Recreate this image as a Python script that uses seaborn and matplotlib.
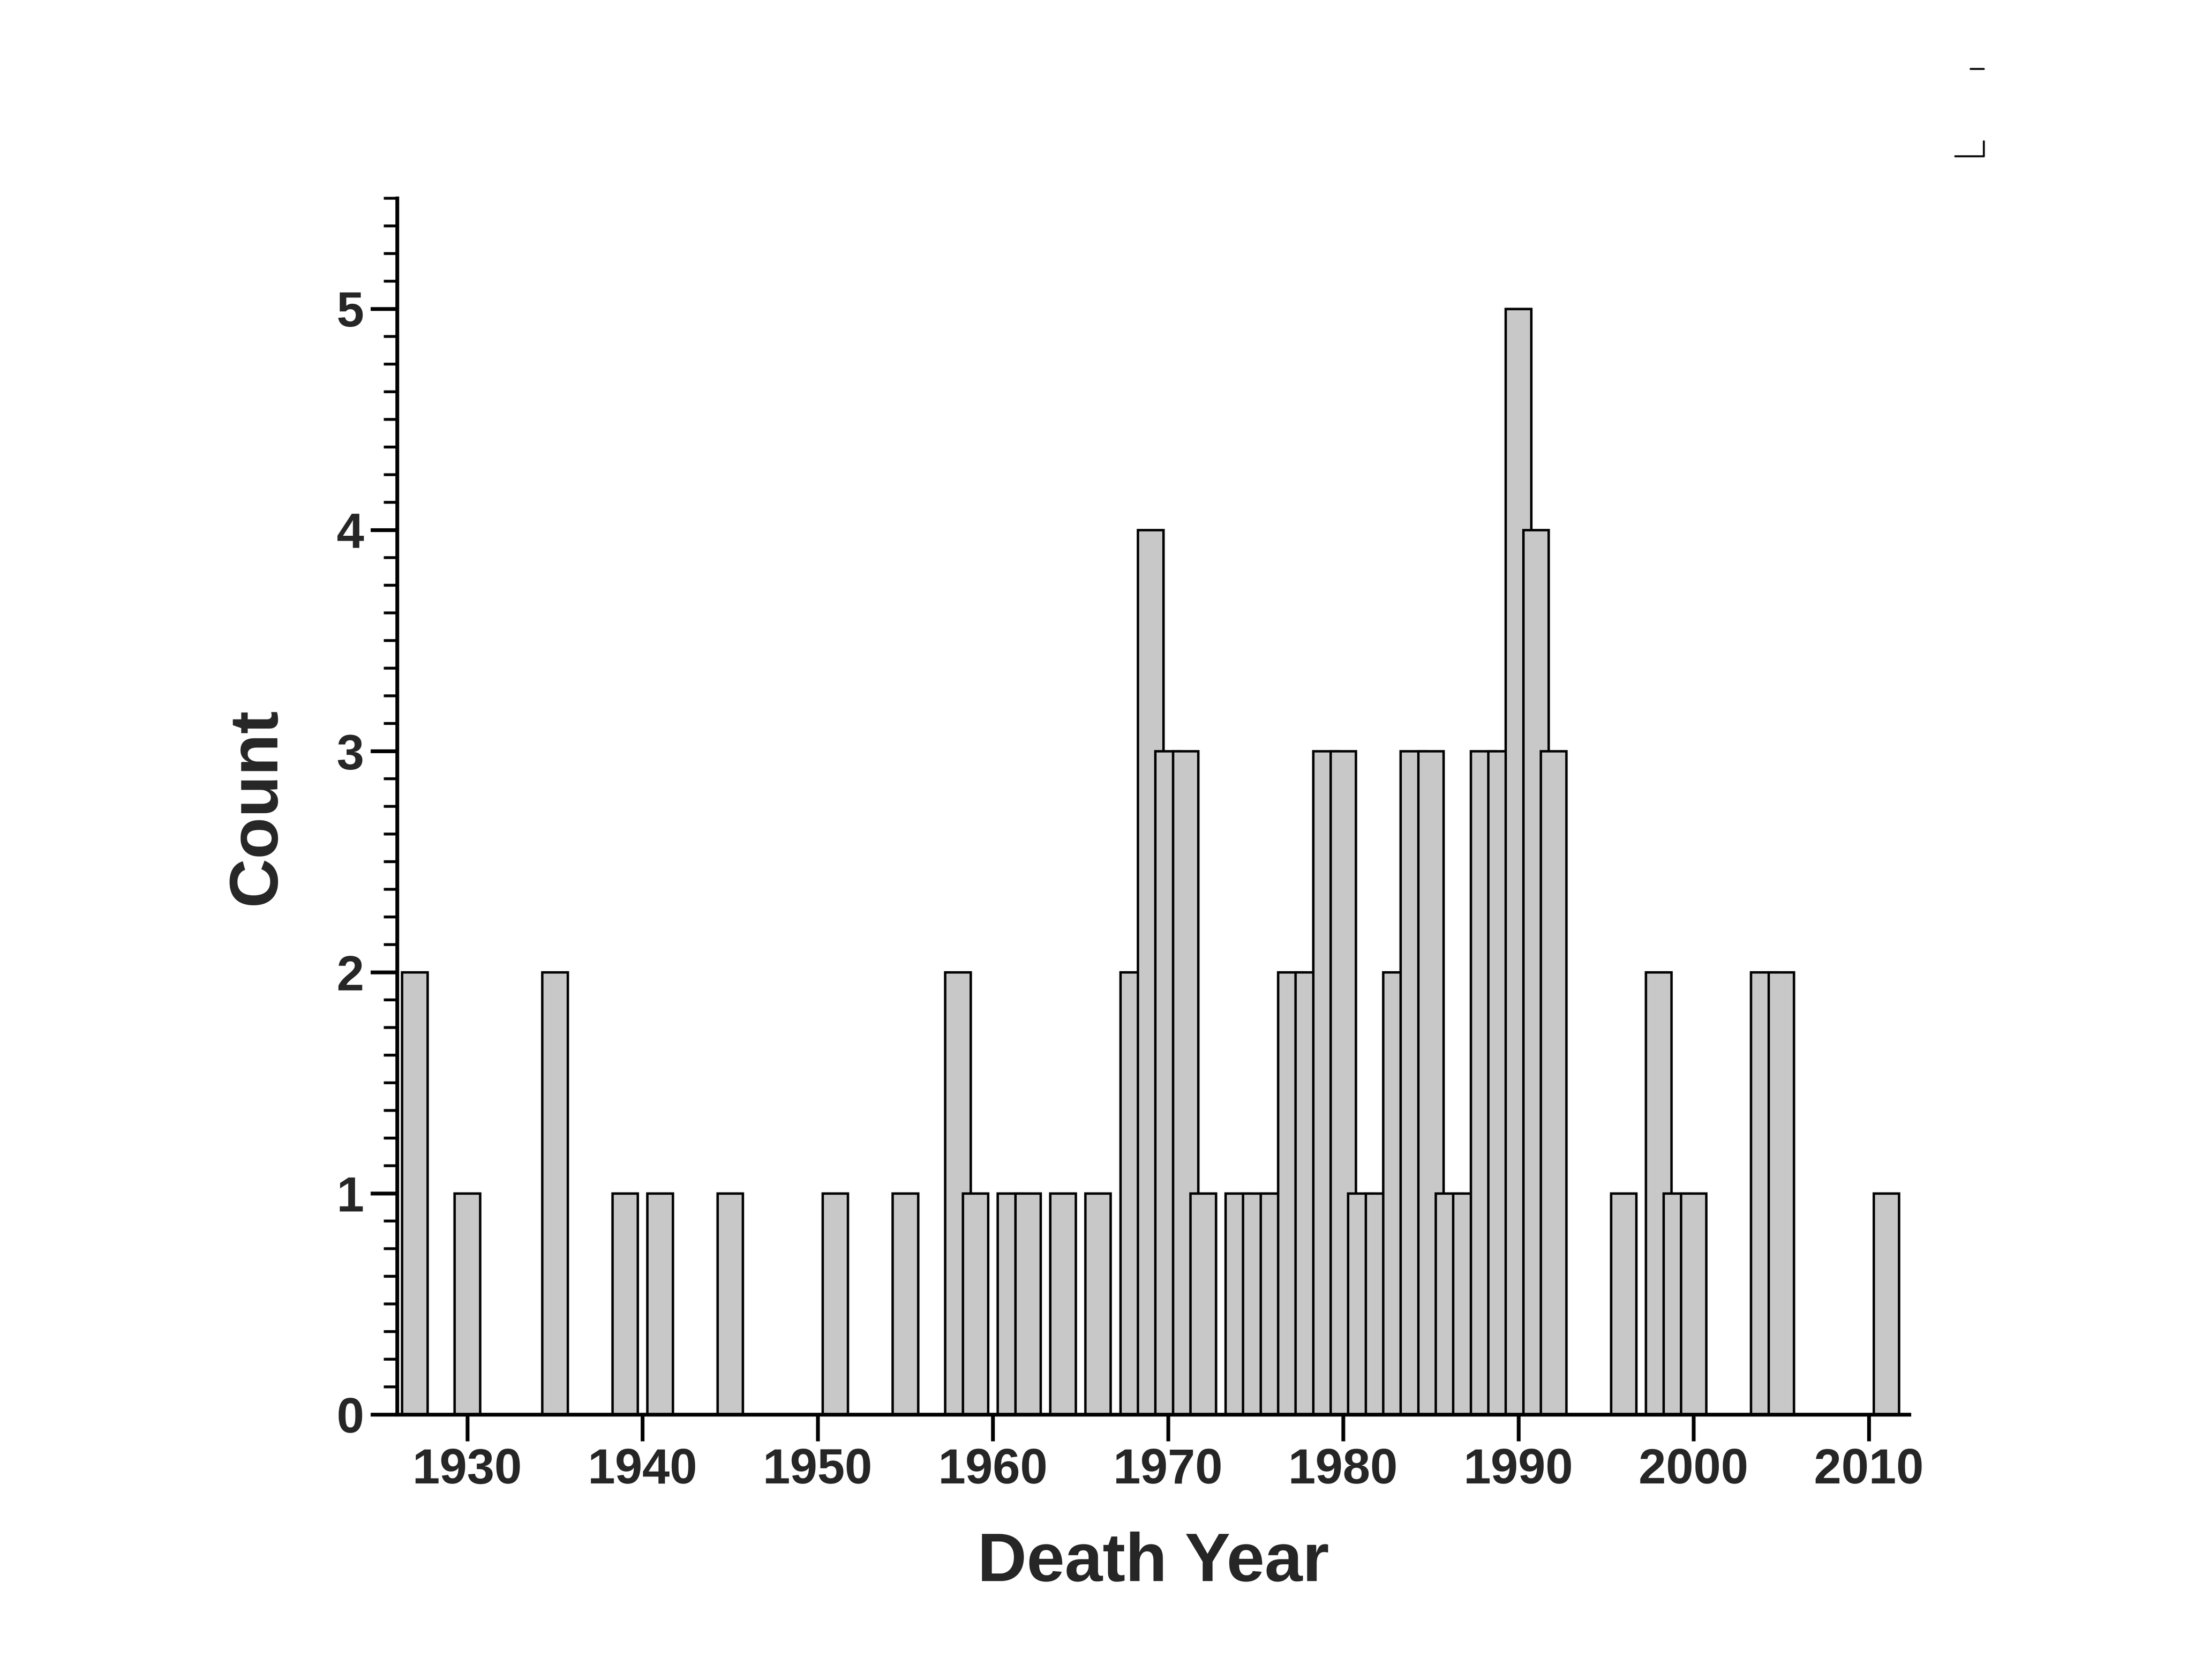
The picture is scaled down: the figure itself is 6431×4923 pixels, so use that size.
import matplotlib
matplotlib.use("Agg")
import matplotlib.pyplot as plt
import seaborn as sns
import pandas as pd
from matplotlib.ticker import MultipleLocator

years = [1927, 1930, 1935, 1939, 1941, 1945, 1951, 1955, 1958, 1959, 1961, 1962, 1964, 1966,
         1968, 1969, 1970, 1971, 1972, 1974, 1975, 1976, 1977, 1978, 1979, 1980, 1981, 1982,
         1983, 1984, 1985, 1986, 1987, 1988, 1989, 1990, 1991, 1992, 1996, 1998, 1999, 2000,
         2004, 2005, 2011]
counts = [2, 1, 2, 1, 1, 1, 1, 1, 2, 1, 1, 1, 1, 1,
          2, 4, 3, 3, 1, 1, 1, 1, 2, 2, 3, 3, 1, 1,
          2, 3, 3, 1, 1, 3, 3, 5, 4, 3, 1, 2, 1, 1,
          2, 2, 1]
df = pd.DataFrame({"year": years, "count": counts})

sns.set_theme(style="white")
plt.rcParams['font.family'] = ['Liberation Sans', 'DejaVu Sans']
plt.rcParams['font.weight'] = 'bold'

fig = plt.figure(figsize=(16.08, 12.3075), dpi=400)
ax = fig.add_axes([0.181, 0.158, 0.689, 0.724])
ax.bar(df["year"], df["count"], width=1.45, color="#c8c8c8", edgecolor="black", linewidth=1.3)
ax.set_xlim(1926.0, 2012.3)
ax.set_ylim(0, 5.5)
for s in ["top", "right"]:
    ax.spines[s].set_visible(False)
for s in ["left", "bottom"]:
    ax.spines[s].set_color("black")
    ax.spines[s].set_linewidth(2)
ax.xaxis.set_major_locator(MultipleLocator(10))
ax.yaxis.set_major_locator(MultipleLocator(1))
ax.yaxis.set_minor_locator(MultipleLocator(0.125))
ax.tick_params(axis="both", which="major", direction="out", length=14, width=2, labelsize=26, color="black", bottom=True, left=True)
ax.tick_params(axis="y", which="minor", direction="out", length=7, width=1.5, color="black", left=True)
for lab in ax.get_xticklabels() + ax.get_yticklabels():
    lab.set_fontweight("bold")
ax.set_xlabel("Death Year", fontsize=36, fontweight="bold", labelpad=20)
ax.set_ylabel("Count", fontsize=36, fontweight="bold", labelpad=25)
ax.grid(False)

# small marks at top right
fig.add_artist(plt.Line2D([0.898, 0.904], [0.959, 0.959], color="black", lw=1))
fig.add_artist(plt.Line2D([0.891, 0.904], [0.907, 0.907], color="black", lw=1))
fig.add_artist(plt.Line2D([0.904, 0.904], [0.907, 0.916], color="black", lw=1))

fig.savefig("out.png", dpi=400)
